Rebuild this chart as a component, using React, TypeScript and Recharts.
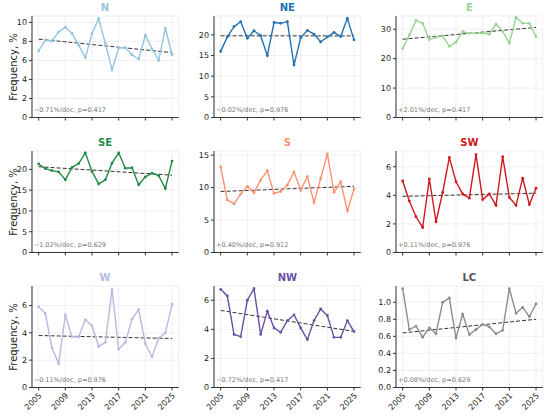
import React from 'react'
import { LineChart, Line, XAxis, YAxis, CartesianGrid, ReferenceLine } from 'recharts'

// yearly frequency (%) of each wind direction, 2005–2025
const years = [2005, 2006, 2007, 2008, 2009, 2010, 2011, 2012, 2013, 2014, 2015, 2016, 2017, 2018, 2019, 2020, 2021, 2022, 2023, 2024, 2025]
const yearTicks = [2005, 2009, 2013, 2017, 2021, 2025]

const nFreq = [7.0, 8.15, 8.05, 9.0, 9.5, 8.85, 7.6, 6.3, 8.8, 10.4, 7.8, 5.0, 7.3, 7.35, 6.6, 6.15, 8.65, 7.2, 6.0, 9.4, 6.6]
const neFreq = [16.0, 19.5, 22.0, 23.2, 19.2, 21.0, 19.8, 15.0, 23.0, 22.8, 23.2, 12.7, 19.3, 21.1, 20.2, 18.3, 19.5, 20.6, 19.6, 24.0, 18.8]
const eFreq = [23.5, 28.0, 33.0, 32.0, 26.5, 27.3, 27.7, 24.2, 25.6, 29.2, 28.6, 28.6, 28.7, 28.3, 31.7, 29.3, 25.3, 34.0, 32.0, 32.0, 27.5]
const seFreq = [21.3, 20.2, 19.7, 19.4, 17.5, 20.5, 21.4, 24.0, 19.5, 16.5, 17.5, 21.5, 24.0, 20.3, 20.4, 16.3, 18.2, 19.1, 18.5, 15.4, 22.0]
const sFreq = [13.2, 8.1, 7.5, 9.0, 10.2, 9.2, 11.2, 12.6, 9.1, 9.4, 10.4, 12.4, 9.6, 11.7, 7.7, 11.4, 15.2, 9.3, 10.9, 6.4, 9.8]
const swFreq = [5.0, 3.6, 2.5, 1.75, 5.15, 2.15, 4.2, 6.65, 4.95, 4.1, 3.8, 6.85, 3.7, 4.1, 3.3, 6.7, 3.85, 3.3, 5.2, 3.35, 4.5]
const wFreq = [5.9, 5.4, 2.9, 1.75, 5.3, 3.7, 3.7, 4.95, 4.5, 3.0, 3.3, 7.15, 2.8, 3.3, 5.0, 5.7, 3.2, 2.25, 3.6, 4.0, 6.1]
const nwFreq = [6.75, 6.3, 3.65, 3.5, 6.0, 6.8, 3.65, 5.25, 4.1, 3.8, 4.6, 5.0, 4.1, 3.3, 4.6, 5.4, 4.95, 3.45, 3.45, 4.6, 3.85]
const lcFreq = [1.16, 0.68, 0.72, 0.59, 0.7, 0.63, 1.0, 1.05, 0.58, 0.86, 0.62, 0.68, 0.74, 0.71, 0.63, 0.67, 1.16, 0.87, 0.94, 0.83, 0.98]

// trend line values at 2005 and 2025
const nTrend = [8.24, 6.82]
const neTrend = [19.78, 19.74]
const eTrend = [26.6, 30.62]
const seTrend = [20.65, 18.61]
const sTrend = [9.4, 10.2]
const swTrend = [3.93, 4.15]
const wTrend = [3.8, 3.58]
const nwTrend = [5.3, 3.86]
const lcTrend = [0.64, 0.8]

const panels = [
  { name: 'N', values: nFreq, trend: nTrend, note: '−0.71%/dec, p=0.417', color: '#92c5de', titleColor: '#92c5de', yMax: 10.67, yTicks: [0, 2, 4, 6, 8, 10] },
  { name: 'NE', values: neFreq, trend: neTrend, note: '−0.02%/dec, p=0.976', color: '#2171b5', titleColor: '#2171b5', yMax: 24.57, yTicks: [0, 5, 10, 15, 20] },
  { name: 'E', values: eFreq, trend: eTrend, note: '+2.01%/dec, p=0.417', color: '#98d492', titleColor: '#98d492', yMax: 34.5, yTicks: [0, 10, 20, 30] },
  { name: 'SE', values: seFreq, trend: seTrend, note: '−1.02%/dec, p=0.629', color: '#238b45', titleColor: '#238b45', yMax: 24.43, yTicks: [0, 5, 10, 15, 20] },
  { name: 'S', values: sFreq, trend: sTrend, note: '+0.40%/dec, p=0.912', color: '#fc9272', titleColor: '#fc9272', yMax: 15.64, yTicks: [0, 5, 10, 15] },
  { name: 'SW', values: swFreq, trend: swTrend, note: '+0.11%/dec, p=0.976', color: '#d0181e', titleColor: '#d0181e', yMax: 7.1, yTicks: [0, 2, 4, 6] },
  { name: 'W', values: wFreq, trend: wTrend, note: '−0.11%/dec, p=0.976', color: '#b8b9e0', titleColor: '#b8b9e0', yMax: 7.42, yTicks: [0, 2, 4, 6] },
  { name: 'NW', values: nwFreq, trend: nwTrend, note: '−0.72%/dec, p=0.417', color: '#6a51a3', titleColor: '#6a51a3', yMax: 6.98, yTicks: [0, 2, 4, 6] },
  { name: 'LC', values: lcFreq, trend: lcTrend, note: '+0.08%/dec, p=0.629', color: '#8c8c8c', titleColor: '#555555', yMax: 1.19, yTicks: [0, 0.2, 0.4, 0.6, 0.8, 1.0] },
]

const FONT = '"DejaVu Sans", sans-serif'
const colLefts = [31.7, 214, 396]
const rowTops = [16.2, 151.2, 286.2]
const plotW = 146.7
const plotH = 101.5
const yAxisW = 30
const padTop = 4

const YearTick = (props: any) => {
  const { x, y, payload } = props
  return (
    <g transform={`translate(${x},${y})`}>
      <text x={0} y={0} dy={5} textAnchor="end" transform="rotate(-45)" fontSize={8} fill="#222" fontFamily={FONT}>
        {payload.value}
      </text>
    </g>
  )
}

// top and middle rows share the x axis: tick marks only, no labels
const NoLabelTick = () => <g />

function Panel({ p, row, col }: { p: (typeof panels)[number]; row: number; col: number }) {
  const data = years.map((year, i) => ({ year, value: p.values[i] }))
  const bottom = row === 2
  const xH = bottom ? 32 : 8
  const left = colLefts[col]
  const top = rowTops[row]
  const isLC = p.name === 'LC'

  return (
    <>
      <div style={{ position: 'absolute', left: left - yAxisW, top: top - padTop }}>
        <LineChart
          width={yAxisW + plotW + 6}
          height={padTop + plotH + xH}
          data={data}
          margin={{ top: padTop, right: 6, left: 0, bottom: 0 }}
        >
          <CartesianGrid stroke="#ebebeb" strokeWidth={0.8} />
          <XAxis
            type="number"
            dataKey="year"
            domain={[2004, 2026]}
            ticks={yearTicks}
            interval={0}
            height={xH}
            tickSize={3}
            tickMargin={2}
            stroke="#333"
            tick={bottom ? <YearTick /> : <NoLabelTick />}
          />
          <YAxis
            type="number"
            domain={[0, p.yMax]}
            ticks={p.yTicks}
            interval={0}
            width={yAxisW}
            tickSize={3}
            tickMargin={2}
            stroke="#333"
            tick={{ fontSize: 8, fill: '#222', fontFamily: FONT }}
            tickFormatter={(v: number) => (isLC ? v.toFixed(1) : String(v))}
          />
          <ReferenceLine
            segment={[
              { x: 2005, y: p.trend[0] },
              { x: 2025, y: p.trend[1] },
            ]}
            stroke="#333"
            strokeWidth={1}
            strokeDasharray="4 2"
          />
          <Line
            dataKey="value"
            stroke={p.color}
            strokeWidth={1.4}
            dot={{ r: 1.4, fill: p.color, stroke: p.color, strokeWidth: 0 }}
            isAnimationActive={false}
          />
        </LineChart>
      </div>
      <div
        style={{
          position: 'absolute',
          left,
          width: plotW,
          top: top - 14,
          textAlign: 'center',
          fontSize: 10,
          fontWeight: 'bold',
          lineHeight: '12px',
          color: p.titleColor,
        }}
      >
        {p.name}
      </div>
      <div
        style={{
          position: 'absolute',
          left: left + 2,
          top: top + plotH - 11.5,
          fontSize: 6.5,
          lineHeight: '8px',
          color: '#777',
          whiteSpace: 'nowrap',
        }}
      >
        {p.note}
      </div>
    </>
  )
}

export default function App() {
  return (
    <div
      style={{
        position: 'absolute',
        left: 0,
        top: 0,
        width: 550,
        height: 418,
        background: '#fff',
        fontFamily: FONT,
        overflow: 'hidden',
      }}
    >
      {panels.map((p, i) => (
        <Panel key={p.name} p={p} row={Math.floor(i / 3)} col={i % 3} />
      ))}
      {rowTops.map((t) => (
        <div
          key={t}
          style={{
            position: 'absolute',
            left: 14 - 50,
            top: t + plotH / 2 - 6,
            width: 100,
            height: 12,
            lineHeight: '12px',
            textAlign: 'center',
            fontSize: 10,
            color: '#222',
            transform: 'rotate(-90deg)',
          }}
        >
          Frequency, %
        </div>
      ))}
    </div>
  )
}
